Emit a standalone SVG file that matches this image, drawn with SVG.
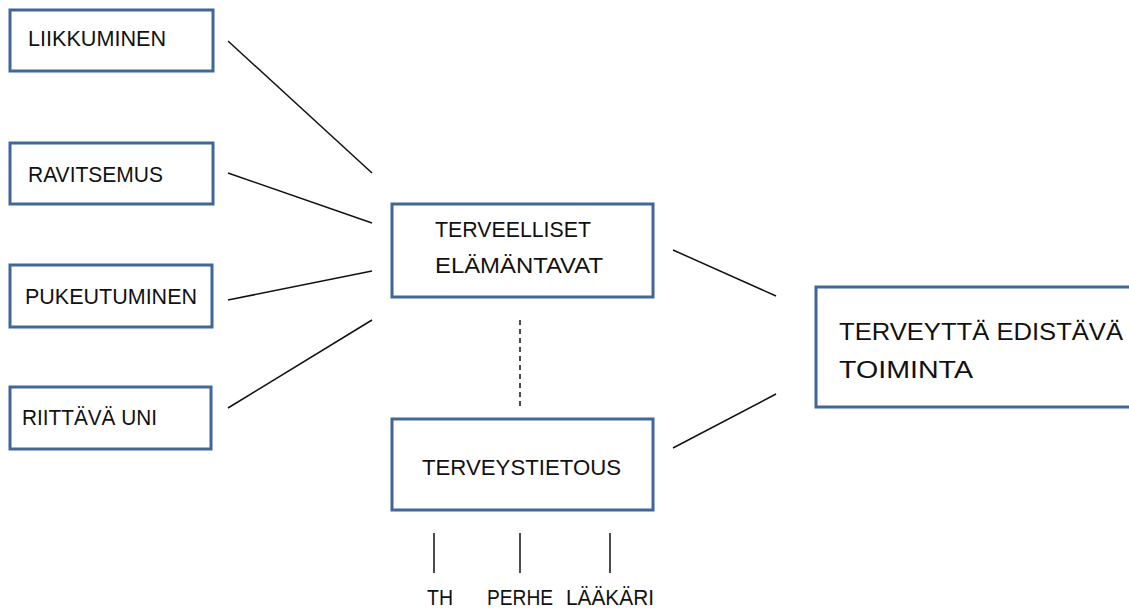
<svg xmlns="http://www.w3.org/2000/svg" width="1129" height="610" viewBox="0 0 1129 610">
<style>
.box{fill:#fff;stroke:#41679a;stroke-width:3}
.t{font-family:"Liberation Sans",Arial,sans-serif;font-size:21.5px;fill:#111}
.tb{font-family:"Liberation Sans",Arial,sans-serif;font-size:24px;fill:#111}
.c{stroke:#111;stroke-width:1.5;fill:none}
</style>
<rect width="1129" height="610" fill="#fff"/>
<g id="connectors">
<line class="c" x1="228" y1="41" x2="372" y2="173"/>
<line class="c" x1="228" y1="173" x2="372" y2="223"/>
<line class="c" x1="228" y1="300" x2="372" y2="271"/>
<line class="c" x1="228" y1="408" x2="372" y2="320"/>
<line class="c" x1="673" y1="250" x2="776" y2="296"/>
<line class="c" x1="673" y1="448" x2="776" y2="394"/>
<line class="c" x1="520" y1="320" x2="520" y2="408" stroke-dasharray="5,4"/>
<line class="c" x1="434" y1="533" x2="434" y2="573"/>
<line class="c" x1="520" y1="533" x2="520" y2="573"/>
<line class="c" x1="610" y1="533" x2="610" y2="573"/>
</g>
<g id="liikkuminen"><rect class="box" x="10" y="10" width="203" height="61"/><text class="t" x="28" y="46" textLength="138" lengthAdjust="spacingAndGlyphs">LIIKKUMINEN</text></g>
<g id="ravitsemus"><rect class="box" x="10" y="143" width="203" height="61"/><text class="t" x="28" y="182" textLength="135" lengthAdjust="spacingAndGlyphs">RAVITSEMUS</text></g>
<g id="pukeutuminen"><rect class="box" x="10" y="265" width="202" height="62"/><text class="t" x="25" y="304" textLength="172" lengthAdjust="spacingAndGlyphs">PUKEUTUMINEN</text></g>
<g id="riittava-uni"><rect class="box" x="10" y="387" width="201" height="62"/><text class="t" x="22" y="425" textLength="135" lengthAdjust="spacingAndGlyphs">RIITTÄVÄ UNI</text></g>
<g id="terveelliset"><rect class="box" x="392" y="204" width="261" height="93"/><text class="t" x="435" y="237" textLength="156" lengthAdjust="spacingAndGlyphs">TERVEELLISET</text><text class="t" x="435" y="273" textLength="168" lengthAdjust="spacingAndGlyphs">ELÄMÄNTAVAT</text></g>
<g id="terveystietous"><rect class="box" x="392" y="419" width="261" height="91"/><text class="t" x="422" y="475" textLength="199" lengthAdjust="spacingAndGlyphs">TERVEYSTIETOUS</text></g>
<g id="terveytta"><rect class="box" x="816" y="287" width="320" height="120"/><text class="tb" x="839" y="340" textLength="284" lengthAdjust="spacingAndGlyphs">TERVEYTTÄ EDISTÄVÄ</text><text class="tb" x="839" y="378" textLength="134" lengthAdjust="spacingAndGlyphs">TOIMINTA</text></g>
<g id="labels">
<text class="t" x="427" y="605" textLength="26" lengthAdjust="spacingAndGlyphs">TH</text>
<text class="t" x="487" y="605" textLength="66" lengthAdjust="spacingAndGlyphs">PERHE</text>
<text class="t" x="566" y="605" textLength="88" lengthAdjust="spacingAndGlyphs">LÄÄKÄRI</text>
</g>
</svg>
